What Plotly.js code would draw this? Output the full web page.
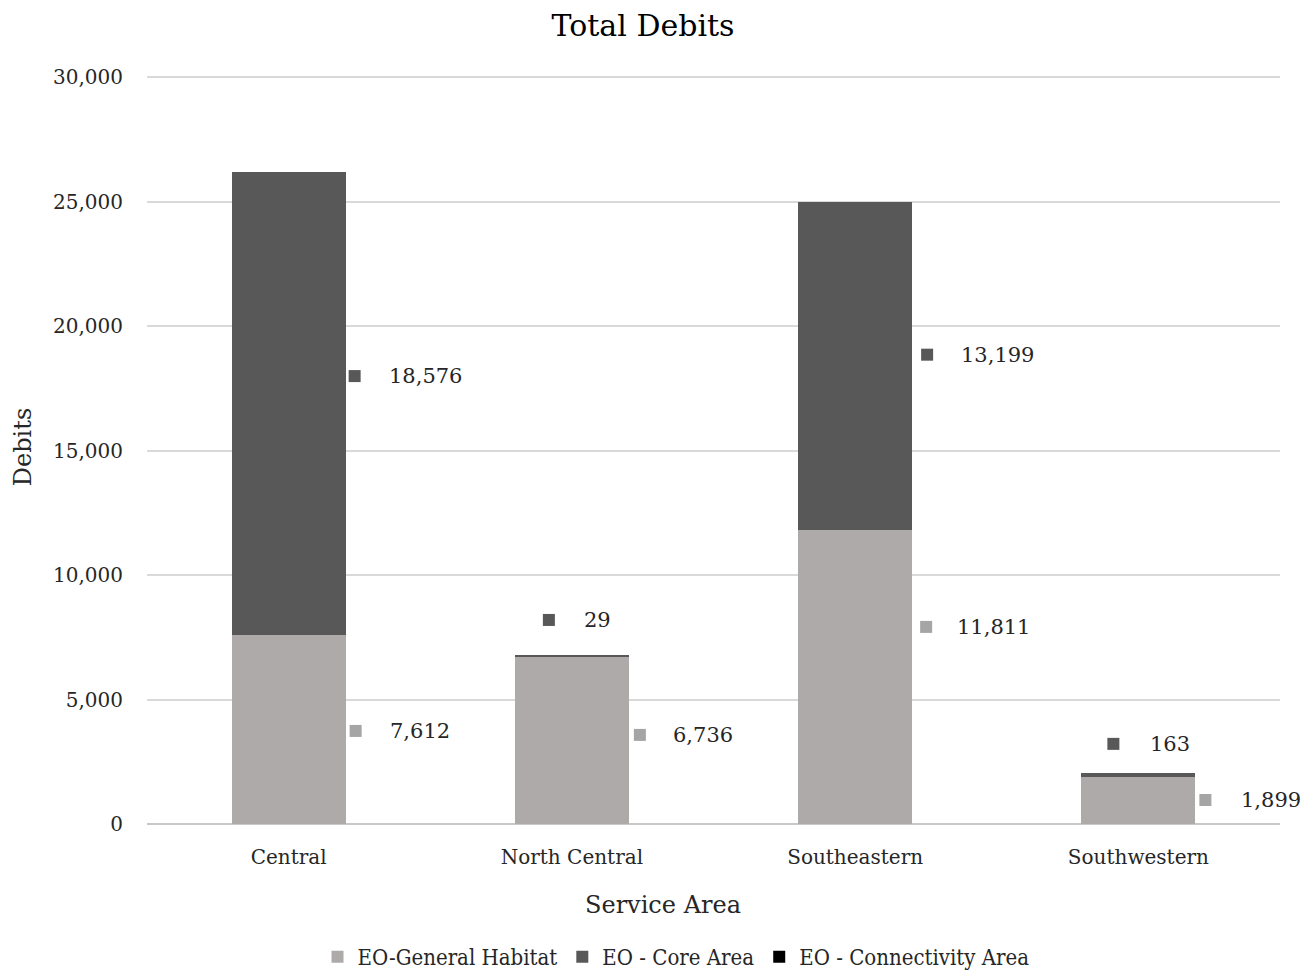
<!DOCTYPE html>
<html>
<head>
<meta charset="utf-8">
<script src="https://cdn.plot.ly/plotly-3.0.1.min.js"></script>
<style>
  html, body { margin: 0; padding: 0; background: #ffffff; }
  #chart { width: 1316px; height: 970px; }
</style>
</head>
<body>
<div id="chart"></div>
<script>
// Service areas and debit totals per habitat type
const areas = ["Central", "North Central", "Southeastern", "Southwestern"];
const generalHabitat = [7612, 6736, 11811, 1899];
const coreArea = [18576, 29, 13199, 163];
const connectivityArea = [0, 0, 0, 0];
const yTicks = [0, 5000, 10000, 15000, 20000, 25000, 30000];

// Where each value callout sits (y in data units, x offsets in pixels from the category centre)
const generalLabelY = [3740, 3580, 7920, 965];
const coreLabelY = [18000, 8200, 18860, 3220];
const generalKeyDx = [67, 68, 71, 67];
const generalTextDx = [99, 99, 100, 101];
const coreKeyDx = [66, -23, 72, -25];
const coreTextDx = [98, 10, 104, 10];

const GENERAL_COLOR = "#AEAAAA";
const CORE_COLOR = "#585858";
const CONNECT_COLOR = "#000000";
const FONT = "DejaVu Serif, Liberation Serif, serif";
const fmt = v => v.toLocaleString("en-US");

// Frame geometry
const W = 1316, H = 970;
const M = { l: 147, r: 36, t: 70, b: 146 };
const plotH = H - M.t - M.b;
const Y_MAX = 30300; // a little headroom so the 30,000 gridline is drawn

const traces = [
  { type: "bar", name: "EO-General Habitat", x: areas, y: generalHabitat,
    marker: { color: GENERAL_COLOR }, hoverinfo: "x+y+name" },
  { type: "bar", name: "EO - Core Area", x: areas, y: coreArea,
    marker: { color: CORE_COLOR }, hoverinfo: "x+y+name" },
  { type: "bar", name: "EO - Connectivity Area", x: areas, y: connectivityArea,
    marker: { color: CONNECT_COLOR }, hoverinfo: "x+y+name" }
];

const annotations = [];
const shapes = [];
function addCallout(i, yVal, value, keyDx, textDx, keyColor) {
  shapes.push({
    type: "rect", xref: "x", yref: "y",
    xsizemode: "pixel", ysizemode: "pixel",
    xanchor: i, yanchor: yVal,
    x0: keyDx - 6, x1: keyDx + 6, y0: -6, y1: 6,
    fillcolor: keyColor, line: { width: 0 }
  });
  annotations.push({
    xref: "x", yref: "y", x: i, y: yVal, xshift: textDx,
    xanchor: "left", yanchor: "middle", showarrow: false,
    text: fmt(value), font: { family: FONT, size: 21, color: "#262626" }
  });
}
areas.forEach((a, i) => {
  addCallout(i, generalLabelY[i], generalHabitat[i], generalKeyDx[i], generalTextDx[i], "#A5A5A5");
  addCallout(i, coreLabelY[i], coreArea[i], coreKeyDx[i], coreTextDx[i], CORE_COLOR);
});

// x-axis title placed as free text below the category labels
annotations.push({
  xref: "paper", yref: "paper", x: (663 - M.l) / (W - M.l - M.r), y: -81 / plotH,
  xanchor: "center", yanchor: "middle", showarrow: false,
  text: "Service Area", font: { family: FONT, size: 24, color: "#262626" }
});

const layout = {
  width: W, height: H,
  paper_bgcolor: "#ffffff", plot_bgcolor: "#ffffff",
  margin: M,
  barmode: "stack",
  bargap: 0.597,
  title: {
    text: "Total Debits", x: 643 / W, xanchor: "center",
    y: 1 - 25 / H, yanchor: "middle", yref: "container",
    font: { family: FONT, size: 30, color: "#000000" }
  },
  font: { family: FONT, color: "#262626" },
  xaxis: {
    type: "category", automargin: false,
    range: [-0.5, areas.length - 0.5],
    tickangle: 0,
    tickfont: { family: FONT, size: 20, color: "#262626" },
    ticks: "", showgrid: false, showline: false, zeroline: false,
    ticklabelstandoff: 19
  },
  yaxis: {
    range: [0, Y_MAX], automargin: false,
    tickvals: yTicks, ticktext: yTicks.map(fmt),
    tickfont: { family: FONT, size: 20, color: "#262626" },
    ticks: "", showline: false,
    gridcolor: "#D9D9D9", gridwidth: 1.5,
    zeroline: true, zerolinecolor: "#C8C8C8", zerolinewidth: 1.5,
    ticklabelstandoff: 23,
    title: { text: "Debits", standoff: 14, font: { family: FONT, size: 24, color: "#262626" } }
  },
  legend: {
    orientation: "h", xref: "paper", x: (676 - M.l) / (W - M.l - M.r), xanchor: "center",
    yref: "container", y: 1 - 957 / H, yanchor: "middle",
    font: { family: "DejaVu Serif Condensed, DejaVu Serif, serif", size: 22, color: "#262626" },
    traceorder: "normal"
  },
  showlegend: true,
  annotations: annotations,
  shapes: shapes
};

Plotly.newPlot("chart", traces, layout, { displayModeBar: false, responsive: false });
</script>
</body>
</html>
